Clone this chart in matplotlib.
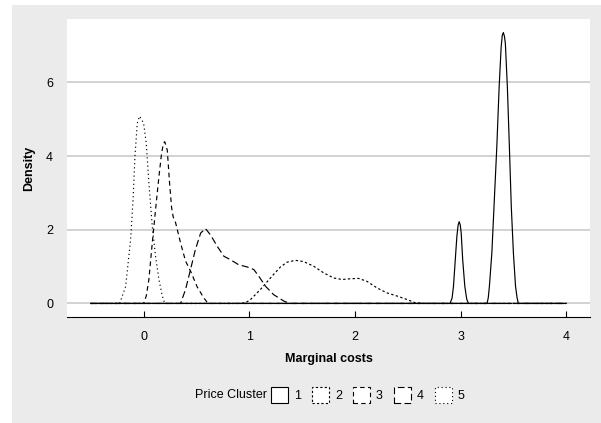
import matplotlib
matplotlib.use("Agg")
import matplotlib.pyplot as plt
from matplotlib.patches import Patch, Rectangle

plt.rcParams['font.family'] = ['Liberation Sans', 'DejaVu Sans']

# density curves (x = marginal cost, y = density)
c1_x = [-0.5, 2.90, 2.92, 2.933, 2.95, 2.965, 2.977, 2.987, 2.997, 3.006, 3.02, 3.04, 3.058, 3.075,
        3.25, 3.262, 3.273, 3.296, 3.318, 3.343, 3.365, 3.384, 3.395, 3.405, 3.415, 3.424, 3.443,
        3.462, 3.48, 3.50, 3.52, 3.535, 3.547, 4.0]
c1_y = [0, 0, 0.15, 0.47, 1.19, 1.82, 2.13, 2.22, 2.13, 1.91, 1.19, 0.47, 0.12, 0,
        0, 0.15, 0.47, 1.37, 2.72, 4.25, 5.87, 6.95, 7.28, 7.35, 7.25, 7.05, 5.87,
        4.25, 2.63, 1.37, 0.47, 0.15, 0, 0]

c2_x = [-0.5, 0.92, 0.97, 1.01, 1.106, 1.2, 1.295, 1.358, 1.437, 1.515, 1.61, 1.704, 1.80, 1.878,
        1.957, 2.035, 2.114, 2.21, 2.30, 2.40, 2.49, 2.57, 2.65, 4.0]
c2_y = [0, 0, 0.03, 0.1, 0.38, 0.69, 0.99, 1.12, 1.17, 1.135, 1.01, 0.83, 0.69, 0.65,
        0.67, 0.68, 0.60, 0.42, 0.29, 0.2, 0.11, 0.02, 0, 0]

c3_x = [-0.5, 0.0, 0.025, 0.05, 0.082, 0.113, 0.145, 0.17, 0.187, 0.2, 0.224, 0.246, 0.265, 0.28,
        0.302, 0.35, 0.397, 0.444, 0.507, 0.57, 0.61, 4.0]
c3_y = [0, 0, 0.2, 0.65, 1.64, 2.54, 3.44, 4.07, 4.33, 4.39, 4.16, 3.26, 2.6, 2.35,
        2.2, 1.64, 1.15, 0.88, 0.45, 0.15, 0, 0]

c4_x = [-0.5, 0.35, 0.397, 0.444, 0.49, 0.54, 0.586, 0.633, 0.697, 0.76, 0.82, 0.90, 0.98,
        1.043, 1.09, 1.153, 1.23, 1.33, 1.39, 4.0]
c4_y = [0, 0, 0.38, 0.92, 1.46, 1.91, 2.03, 1.86, 1.55, 1.28, 1.19, 1.05, 0.99,
        0.92, 0.74, 0.47, 0.24, 0.06, 0, 0]

c5_x = [-0.5, -0.227, -0.17, -0.123, -0.10, -0.082, -0.06, -0.038, 0.0, 0.025, 0.05, 0.082,
        0.113, 0.145, 0.177, 0.2, 4.0]
c5_y = [0, 0, 0.46, 1.73, 2.8, 3.98, 4.89, 5.08, 4.89, 4.35, 3.27, 2.09,
        1.28, 0.65, 0.2, 0, 0]

clusters = ['1', '2', '3', '4', '5']
curves = [(c1_x, c1_y), (c2_x, c2_y), (c3_x, c3_y), (c4_x, c4_y), (c5_x, c5_y)]
styles = ['solid', (0, (2, 2)), (0, (4, 3)), (0, (6, 3)), (0, (1, 2.5))]

x_ticks = [0, 1, 2, 3, 4]
y_ticks = [0, 2, 4, 6]

fig = plt.figure(figsize=(6.01, 4.23), dpi=100, facecolor='white')
bg = Rectangle((12 / 601, 0), 1, 1 - 5 / 423, transform=fig.transFigure,
               facecolor='#ebebeb', edgecolor='none', zorder=-10)
fig.patches.append(bg)

ax = fig.add_axes([67 / 601, 1 - 317 / 423, (590 - 67) / 601, (317 - 19) / 423])
ax.set_facecolor('white')

for (xs, ys), ls in zip(curves, styles):
    ax.plot(xs, ys, color='black', lw=0.85, linestyle=ls, zorder=3)

ax.set_xlim(-0.725, 4.225)
ax.set_ylim(-0.3675, 7.7175)
ax.set_xticks(x_ticks)
ax.set_yticks(y_ticks)
ax.grid(axis='y', color='#cfcfcf', lw=1.3, zorder=0)
ax.set_axisbelow(True)

for s in ['top', 'right', 'left']:
    ax.spines[s].set_visible(False)
ax.spines['bottom'].set_linewidth(0.8)

ax.tick_params(axis='x', direction='in', length=4, width=0.8, pad=10, labelsize=9)
ax.tick_params(axis='y', length=0, pad=10, labelsize=9)

ax.set_xlabel('Marginal costs', fontsize=9, fontweight='bold')
ax.set_ylabel('Density', fontsize=9, fontweight='bold')
ax.xaxis.set_label_coords(0.5, -0.122)
ax.yaxis.set_label_coords(-0.061, 0.5)

handles = [Patch(facecolor='white', edgecolor='black', linewidth=0.8, linestyle=ls)
           for ls in styles]
fig.text(267 / 601, 1 - 395 / 423, 'Price Cluster', fontsize=9, ha='right', va='center')
fig.legend(handles, clusters, loc='center left', bbox_to_anchor=(271 / 601, 1 - 395 / 423),
           ncol=5, frameon=False, fontsize=9, handlelength=1.36, handleheight=1.52,
           handletextpad=0.48, columnspacing=0.88, borderaxespad=0, borderpad=0)

fig.savefig('out.png', dpi=100, facecolor=fig.get_facecolor())
